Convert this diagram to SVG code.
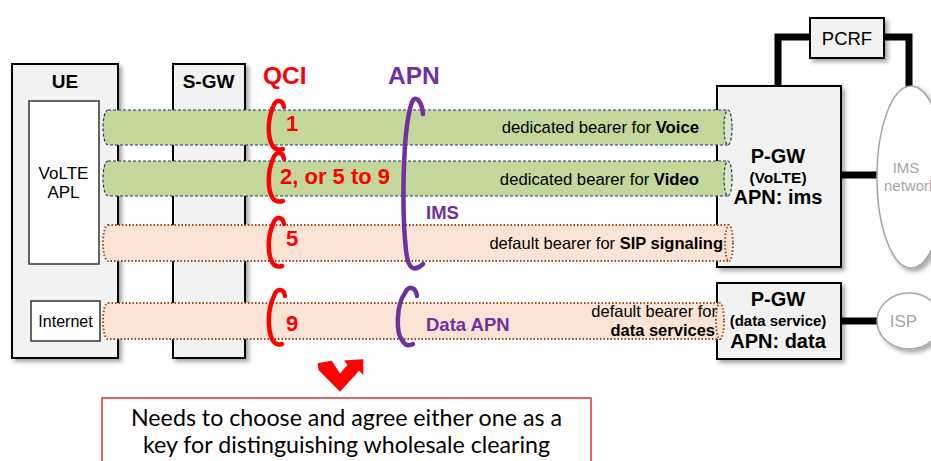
<svg xmlns="http://www.w3.org/2000/svg" width="931" height="461" viewBox="0 0 931 461">
<defs>
<filter id="sh" x="-10%" y="-10%" width="130%" height="130%">
<feDropShadow dx="3" dy="3" stdDeviation="2" flood-color="#000" flood-opacity="0.35"/>
</filter>
<style>
.box{fill:#f2f2f2;stroke:#000;stroke-width:2}
.inner{fill:#fff;stroke:#333;stroke-width:1.5}
.t{font-family:"Liberation Sans",Arial,sans-serif;fill:#000}
.b{font-weight:bold}
.gtube{fill:#c4d79b;stroke:#1f3a68;stroke-width:1.2;stroke-dasharray:3 2}
.gcap{fill:#dce7c8;stroke:#1f3a68;stroke-width:1.2;stroke-dasharray:3 2}
.ptube{fill:#fbe4d5;stroke:#9c4a1a;stroke-width:2;stroke-dasharray:1.5 2}
.pcap{fill:#fbe4d5;stroke:#9c4a1a;stroke-width:2;stroke-dasharray:1.5 2}
.qci{fill:none;stroke:#ff0000;stroke-width:4.5;stroke-linecap:round}
.apn{fill:none;stroke:#7030a0;stroke-width:4.5;stroke-linecap:round}
.red{fill:#ff0000;font-weight:bold}
.pur{fill:#7030a0;font-weight:bold}
.thick{fill:none;stroke:#000;stroke-width:7}
.cloud{fill:#fff;stroke:#a6a6a6;stroke-width:1.5}
.gray{fill:#a6a6a6}
.note{font-family:Lato,"Open Sans",sans-serif;fill:#000;font-size:22.5px}
</style>
</defs>
<rect width="931" height="461" fill="#fff"/>

<g id="connectors">
<path class="thick" d="M778,87 V37 H811"/>
<path class="thick" d="M883,37 H909 V90"/>
<path class="thick" d="M840,175 H878"/>
<path class="thick" d="M840,321 H877"/>
</g>

<g id="ue">
<rect class="box" x="12" y="64" width="106" height="294" filter="url(#sh)"/>
<text class="t b" x="65" y="88" font-size="19" text-anchor="middle">UE</text>
</g>
<g id="volte-apl">
<rect class="inner" x="29" y="101" width="70" height="163"/>
<text class="t" x="63.5" y="179" font-size="17" text-anchor="middle">VoLTE</text>
<text class="t" x="63.5" y="198" font-size="17" text-anchor="middle">APL</text>
</g>
<g id="internet">
<rect class="inner" x="31" y="301" width="69" height="40"/>
<text class="t" x="65.5" y="327" font-size="16" text-anchor="middle">Internet</text>
</g>
<g id="sgw">
<rect class="box" x="173" y="64" width="72" height="294" filter="url(#sh)"/>
<text class="t b" x="208.5" y="88" font-size="19" text-anchor="middle">S-GW</text>
</g>

<g id="pgw-volte">
<rect class="box" x="717" y="86" width="124" height="181" filter="url(#sh)"/>
<text class="t b" x="778" y="163" font-size="20" text-anchor="middle">P-GW</text>
<text class="t b" x="778" y="183" font-size="15.5" text-anchor="middle">(VoLTE)</text>
<text class="t b" x="778" y="204" font-size="20" text-anchor="middle">APN: ims</text>
</g>
<g id="pgw-data">
<rect class="box" x="717" y="283" width="124" height="76" filter="url(#sh)"/>
<text class="t b" x="778" y="306" font-size="20" text-anchor="middle">P-GW</text>
<text class="t b" x="778" y="326" font-size="15" text-anchor="middle">(data service)</text>
<text class="t b" x="778" y="348" font-size="20" text-anchor="middle">APN: data</text>
</g>
<g id="pcrf">
<rect class="box" x="810" y="18" width="74" height="40" filter="url(#sh)"/>
<text class="t" x="847" y="45" font-size="18.5" text-anchor="middle">PCRF</text>
</g>
<g id="ims-network">
<ellipse class="cloud" cx="911" cy="177" rx="34" ry="91" filter="url(#sh)"/>
<text class="t gray" x="906" y="173" font-size="15" text-anchor="middle">IMS</text>
<text class="t gray" x="884" y="191" font-size="15">network</text>
</g>
<g id="isp">
<ellipse class="cloud" cx="909" cy="321" rx="32" ry="28" filter="url(#sh)"/>
<text class="t gray" x="903.5" y="327" font-size="17" text-anchor="middle">ISP</text>
</g>

<g id="bearer-voice">
<path class="gtube" d="M108,110 H728 V145 H108 A5,17.5 0 0 1 108,110 Z"/>
<ellipse class="gcap" cx="728" cy="127.5" rx="4" ry="17.5"/>
<text class="t" x="699" y="133" font-size="16.7" text-anchor="end">dedicated bearer for <tspan class="b">Voice</tspan></text>
</g>
<g id="bearer-video">
<path class="gtube" d="M108,161 H728 V196 H108 A5,17.5 0 0 1 108,161 Z"/>
<ellipse class="gcap" cx="728" cy="178.5" rx="4" ry="17.5"/>
<text class="t" x="699" y="185" font-size="16.7" text-anchor="end">dedicated bearer for <tspan class="b">Video</tspan></text>
</g>
<g id="bearer-sip">
<path class="ptube" d="M108,225 H729 V261 H108 A5,18 0 0 1 108,225 Z"/>
<ellipse class="pcap" cx="729" cy="243" rx="4" ry="18"/>
<text class="t" x="723" y="249" font-size="16.5" text-anchor="end">default bearer for <tspan class="b">SIP signaling</tspan></text>
</g>
<g id="bearer-data">
<path class="ptube" d="M108,303 H720 V339 H108 A5,18 0 0 1 108,303 Z"/>
<ellipse class="pcap" cx="720" cy="321" rx="4" ry="18"/>
<text class="t" x="717" y="317" font-size="16.5" text-anchor="end">default bearer for</text>
<text class="t b" x="715" y="336" font-size="16.5" text-anchor="end">data services</text>
</g>

<g id="qci">
<text class="t red" x="263" y="84" font-size="24.5">QCI</text>
<path class="qci" d="M284,107 C283,100 276,98 273,107 C267,121 268,137 272,145 C275,150 279,150 283,149"/>
<path class="qci" d="M284,159 C283,152 276,150 273,159 C267,173 268,189 272,197 C275,202 279,202 283,201"/>
<path class="qci" d="M284,224 C283,217 276,215 273,224 C267,238 268,254 272,262 C275,267 279,267 282,266"/>
<path class="qci" d="M285,296 C284,289 277,287 274,296 C267,310 268,330 272,339 C275,345 279,345 282,344"/>
<text class="t red" x="286" y="131" font-size="22">1</text>
<text class="t red" x="280" y="184" font-size="22">2, or 5 to 9</text>
<text class="t red" x="286" y="246" font-size="22">5</text>
<text class="t red" x="286" y="331" font-size="22">9</text>
</g>

<g id="apn">
<text class="t pur" x="388" y="84" font-size="24.5">APN</text>
<path class="apn" d="M423,114 C422,102 416,94 412,102 C402,130 402,215 406,250 C408,270 414,272 423,264"/>
<path class="apn" d="M417,296 C416,288 409,284 405,293 C396,305 396,333 402,340 C405,346 409,346 413,344"/>
<text class="t pur" x="426" y="219" font-size="18.5">IMS</text>
<text class="t pur" x="426" y="331" font-size="18.5">Data APN</text>
</g>

<g id="chevron">
<polygon fill="#ff0000" points="317.7,363.3 331.7,360.7 340,373.5 347.5,365 344,360.5 363.3,359.3 363.3,375 359,370.7 340,391.7 318.5,370"/>
</g>

<g id="note">
<rect x="102" y="398" width="489" height="75" fill="#fff" stroke="#e03030" stroke-width="1.5"/>
<text class="note" x="346.5" y="426" text-anchor="middle" textLength="431" lengthAdjust="spacingAndGlyphs">Needs to choose and agree either one as a</text>
<text class="note" x="346.5" y="453" text-anchor="middle" textLength="407" lengthAdjust="spacingAndGlyphs">key for distinguishing wholesale clearing</text>
</g>
</svg>
